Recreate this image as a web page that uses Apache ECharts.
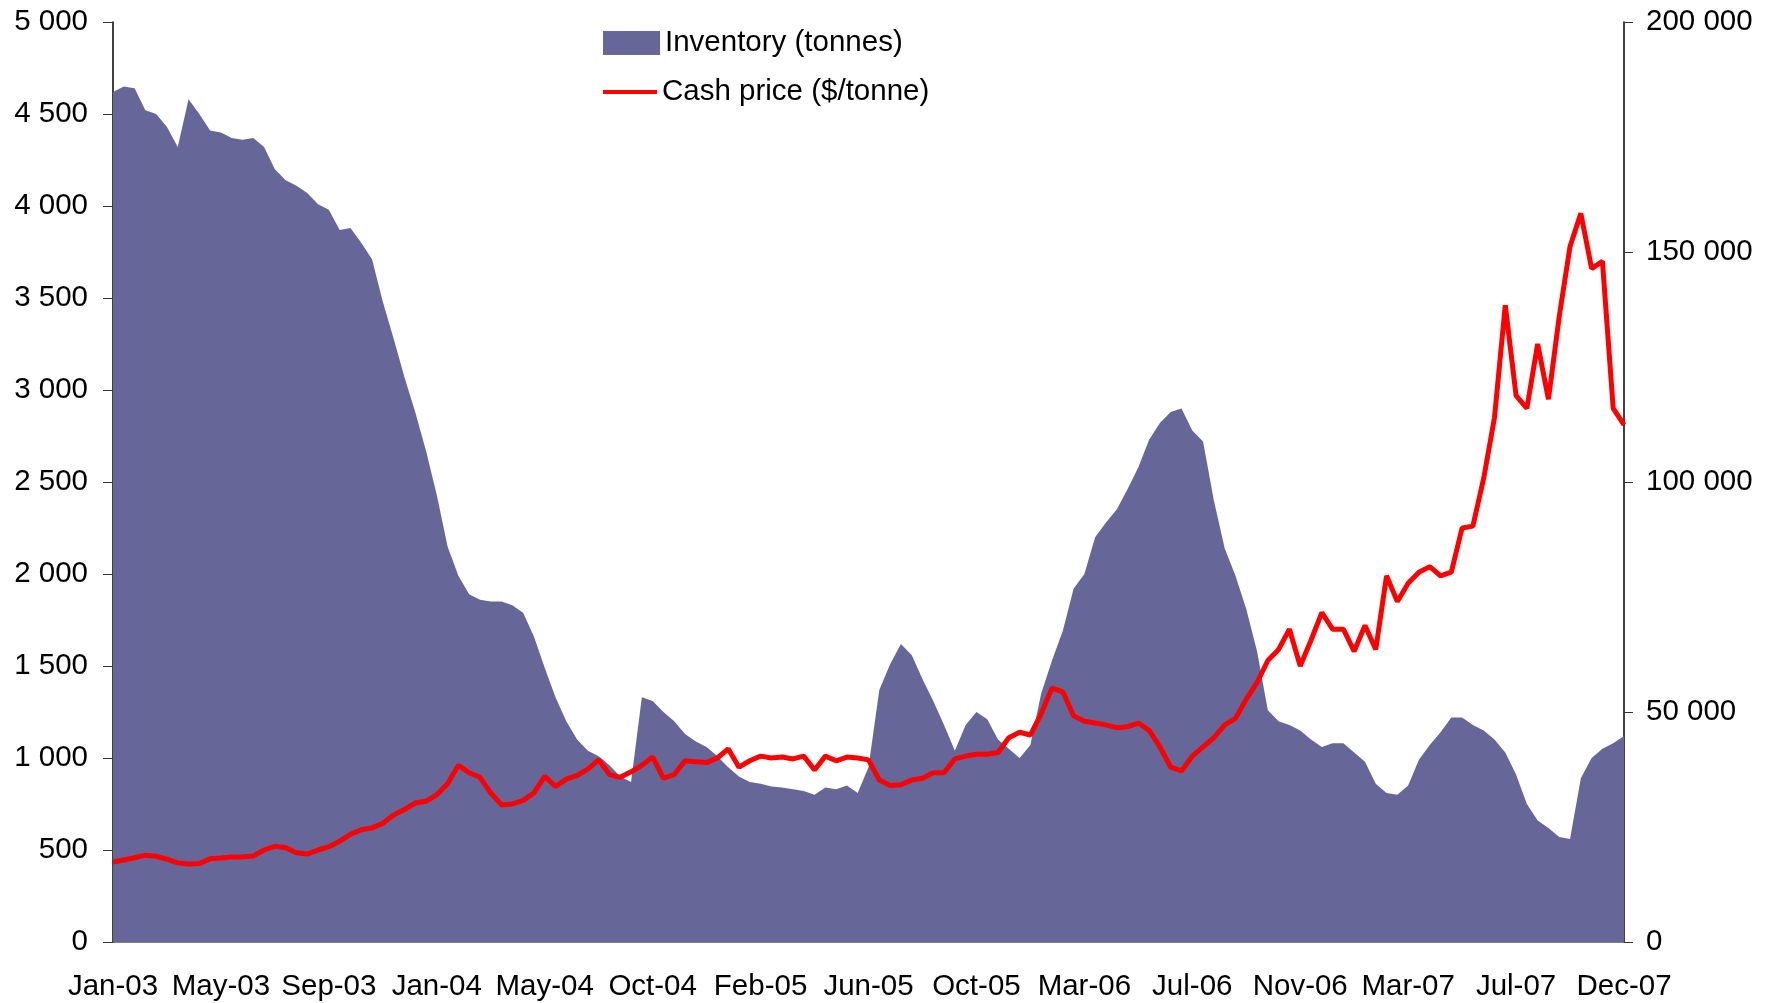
<!DOCTYPE html>
<html>
<head>
<meta charset="utf-8">
<title>Inventory and cash price</title>
<script src="https://cdn.jsdelivr.net/npm/echarts@6.0.0/dist/echarts.min.js"></script>
<style>
  html, body { margin: 0; padding: 0; background: #fff; }
  #chart { width: 1767px; height: 1003px; }
</style>
</head>
<body>
<div id="chart"></div>
<script>
// tick labels on the category axis, one every 10 points
const tickLabels = ['Jan-03', 'May-03', 'Sep-03', 'Jan-04', 'May-04', 'Oct-04', 'Feb-05', 'Jun-05',
  'Oct-05', 'Mar-06', 'Jul-06', 'Nov-06', 'Mar-07', 'Jul-07', 'Dec-07'];
const pointsPerLabel = 10;

// stock on warrant, tonnes
const inventory = [
  184800, 186000, 185600, 180800, 180000, 177200, 172800, 183200, 180000, 176400,
  176000, 174800, 174400, 174800, 172800, 168000, 165600, 164400, 162800, 160400,
  159200, 154800, 155200, 152000, 148400, 139200, 131200, 122800, 115200, 106800,
  97200, 86000, 79600, 75600, 74400, 74000, 74000, 73200, 71600, 66400,
  59600, 53200, 48000, 44000, 41600, 40400, 38400, 36000, 34800, 53200,
  52400, 50000, 48000, 45200, 43600, 42400, 40400, 38000, 36000, 34800,
  34400, 33800, 33600, 33200, 32800, 32000, 33600, 33200, 34000, 32400,
  38000, 54800, 60400, 64800, 62400, 57200, 52400, 47200, 41600, 47200,
  50000, 48400, 44000, 42000, 40000, 42800, 54000, 61200, 67600, 76800,
  80000, 88000, 91200, 94000, 98400, 103200, 109200, 112800, 115200, 116000,
  111200, 108800, 96000, 85600, 79600, 72400, 63200, 50400, 48000, 47200,
  46000, 44000, 42400, 43200, 43200, 41200, 39200, 34400, 32400, 32000,
  34000, 39600, 42800, 45600, 48800, 48800, 47200, 46000, 44000, 41200,
  36400, 30000, 26400, 24800, 22800, 22400, 35600, 40000, 42000, 43200,
  44800
];

// cash price, $/tonne
const cashPrice = [
  434, 446, 458, 472, 466, 450, 430, 424, 426, 452,
  456, 462, 462, 468, 500, 520, 512, 485, 478, 500,
  518, 548, 585, 610, 620, 645, 690, 720, 755, 765,
  800, 860, 960, 920, 895, 810, 745, 750, 770, 810,
  900, 845, 885, 905, 940, 990, 910, 895, 925, 960,
  1005, 890, 910, 985, 980, 975, 1000, 1050, 950, 985,
  1010, 1000, 1005, 995, 1010, 935, 1010, 985, 1005, 1000,
  990, 880, 850, 855, 880, 890, 920, 920, 995, 1010,
  1020, 1020, 1030, 1110, 1140, 1125, 1240, 1380, 1360, 1230,
  1200, 1190, 1180, 1165, 1170, 1190, 1150, 1060, 950, 930,
  1010, 1060, 1110, 1180, 1215, 1320, 1410, 1530, 1590, 1700,
  1500, 1640, 1790, 1700, 1700, 1580, 1720, 1590, 1990, 1850,
  1950, 2010, 2040, 1990, 2010, 2250, 2260, 2520, 2850, 3460,
  2970, 2900, 3250, 2950, 3400, 3780, 3960, 3660, 3700, 2900,
  2810
];

const categories = inventory.map((_, i) => (i % pointsPerLabel === 0 ? tickLabels[i / pointsPerLabel] : ''));

const font = "'Liberation Sans', Arial, sans-serif";
const fontSize = 29.5;
const spaced = v => String(v).replace(/\B(?=(\d{3})+(?!\d))/g, ' ');

const chart = echarts.init(document.getElementById('chart'));
chart.setOption({
  animation: false,
  backgroundColor: '#fff',
  textStyle: { fontFamily: font },
  grid: { left: 113, right: 143, top: 22, bottom: 61, containLabel: false },
  legend: [
    {
      data: ['Inventory (tonnes)'],
      left: 603, top: 28, padding: 0, itemGap: 0,
      itemWidth: 57, itemHeight: 24, icon: 'rect', selectedMode: false,
      textStyle: { fontSize: fontSize, color: '#000', fontFamily: font }
    },
    {
      data: ['Cash price ($/tonne)'],
      left: 603, top: 77, padding: 0, itemGap: 0,
      itemWidth: 54, itemHeight: 4, icon: 'rect', selectedMode: false,
      textStyle: { fontSize: fontSize, color: '#000', fontFamily: font }
    }
  ],
  xAxis: {
    type: 'category',
    data: categories,
    boundaryGap: false,
    axisLine: { lineStyle: { color: '#555', width: 1.5 } },
    axisTick: { show: false },
    axisLabel: { interval: pointsPerLabel - 1, fontSize: fontSize, color: '#000', margin: 30, fontFamily: font },
    splitLine: { show: false }
  },
  yAxis: [
    {
      type: 'value', min: 0, max: 5000, interval: 500, position: 'left',
      axisLine: { show: true, lineStyle: { color: '#000', width: 1.5 } },
      axisTick: { show: true, length: 10, lineStyle: { color: '#333' } },
      axisLabel: { fontSize: fontSize, color: '#000', margin: 25, formatter: spaced, fontFamily: font },
      splitLine: { show: false }
    },
    {
      type: 'value', min: 0, max: 200000, interval: 50000, position: 'right',
      axisLine: { show: true, lineStyle: { color: '#000', width: 1.5 } },
      axisTick: { show: true, length: 9, lineStyle: { color: '#333' } },
      axisLabel: { fontSize: fontSize, color: '#000', margin: 22, formatter: spaced, fontFamily: font },
      splitLine: { show: false }
    }
  ],
  series: [
    {
      name: 'Inventory (tonnes)',
      type: 'line',
      yAxisIndex: 1,
      data: inventory,
      symbol: 'none',
      itemStyle: { color: '#666699' },
      lineStyle: { width: 0 },
      areaStyle: { color: '#666699', opacity: 1 },
      z: 1
    },
    {
      name: 'Cash price ($/tonne)',
      type: 'line',
      yAxisIndex: 0,
      data: cashPrice,
      symbol: 'none',
      itemStyle: { color: '#ff0000' },
      lineStyle: { color: '#ff0000', width: 5 },
      z: 3
    }
  ]
});
</script>
</body>
</html>
